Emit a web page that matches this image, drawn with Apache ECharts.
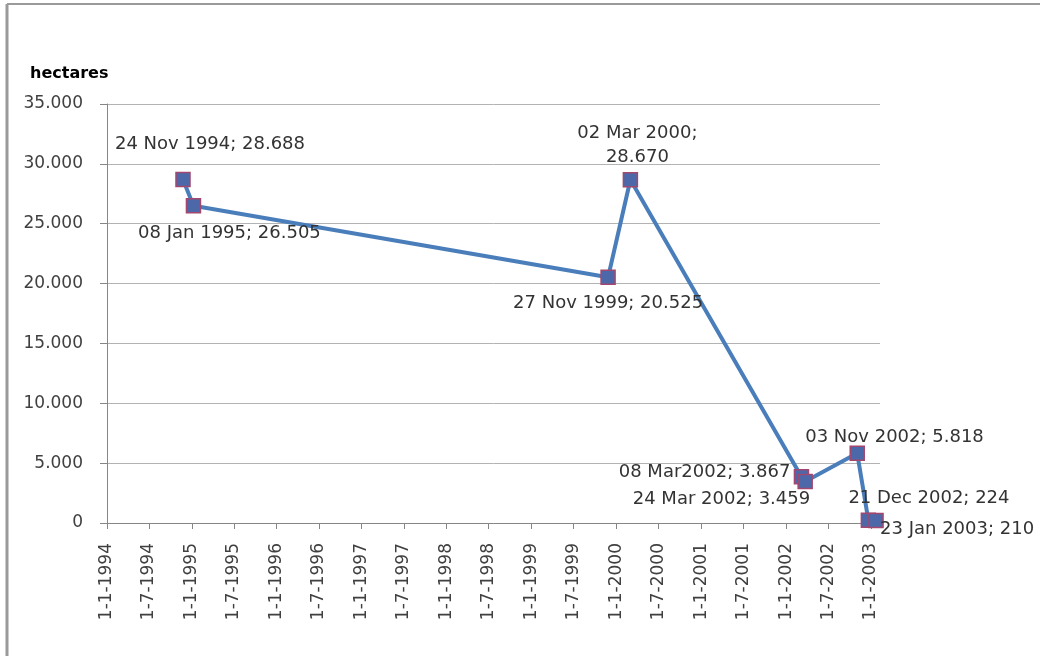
<!DOCTYPE html>
<html>
<head>
<meta charset="utf-8">
<script src="https://cdn.jsdelivr.net/npm/echarts@6/dist/echarts.min.js"></script>
<style>
  html, body { margin: 0; padding: 0; background: #fff; }
  #chart { width: 1040px; height: 656px; }
</style>
</head>
<body>
<div id="chart"></div>
<script>
  // measurement dates and areas (hectares)
  const dates = ['1994-11-24', '1995-01-08', '1999-11-27', '2000-03-02', '2002-03-08', '2002-03-24', '2002-11-03', '2002-12-21', '2003-01-23']
  const hectares = [28688, 26505, 20525, 28670, 3867, 3459, 5818, 224, 210]
  const pointLabels = ['24 Nov 1994; 28.688', '08 Jan 1995; 26.505', '27 Nov 1999; 20.525', '02 Mar 2000;\n28.670', '08 Mar2002; 3.867', '24 Mar 2002; 3.459', '03 Nov 2002; 5.818', '21 Dec 2002; 224', '23 Jan 2003; 210']
  const tickDates = ['1994-01-01', '1994-07-01', '1995-01-01', '1995-07-01', '1996-01-01', '1996-07-01', '1997-01-01', '1997-07-01', '1998-01-01', '1998-07-01', '1999-01-01', '1999-07-01', '2000-01-01', '2000-07-01', '2001-01-01', '2001-07-01', '2002-01-01', '2002-07-01', '2003-01-01']

  // where each label sits relative to its marker
  const labelPlace = [
    { align: 'center', offset: [27, -35] },
    { align: 'center', offset: [36, 28] },
    { align: 'center', offset: [0, 26] },
    { align: 'center', offset: [7, -34] },
    { align: 'right', offset: [-11, -4] },
    { align: 'right', offset: [5, 18] },
    { align: 'left', offset: [-52, -16] },
    { align: 'left', offset: [-20, -22] },
    { align: 'left', offset: [4, 9] }
  ]

  const ts = d => {
    const p = d.split('-').map(Number)
    return Date.UTC(p[0], p[1] - 1, p[2])
  }
  const dotThousands = v => String(v).replace(/\B(?=(\d{3})+(?!\d))/g, '.')
  const dmy = v => {
    const d = new Date(v)
    return d.getUTCDate() + '-' + (d.getUTCMonth() + 1) + '-' + d.getUTCFullYear()
  }

  const font = 'DejaVu Sans'
  const ticks = tickDates.map(ts)

  const chart = echarts.init(document.getElementById('chart'))
  chart.setOption({
    animation: false,
    title: {
      text: 'hectares',
      left: 25,
      top: 61,
      textStyle: { fontFamily: font, fontSize: 16, fontWeight: 'bold', color: '#000' }
    },
    grid: { left: 107, top: 104, right: 160, bottom: 133 },
    graphic: [
      { type: 'line', shape: { x1: 7, y1: 4, x2: 7, y2: 656 }, style: { stroke: '#9a9a9a', lineWidth: 3 } },
      { type: 'line', shape: { x1: 7, y1: 4, x2: 1040, y2: 4 }, style: { stroke: '#9a9a9a', lineWidth: 2 } }
    ],
    xAxis: {
      type: 'value',
      min: ts('1994-01-01'),
      max: ts('2003-02-09'),
      splitLine: { show: false },
      axisLine: { show: true, lineStyle: { color: '#868686' } },
      axisTick: { show: true, length: 6, customValues: ticks, lineStyle: { color: '#868686' } },
      axisLabel: {
        customValues: ticks,
        rotate: 90,
        margin: 20,
        formatter: dmy,
        fontFamily: font,
        fontSize: 17,
        color: '#404040'
      }
    },
    yAxis: {
      type: 'value',
      min: 0,
      max: 35000,
      interval: 5000,
      axisLine: { show: true, lineStyle: { color: '#868686' } },
      axisTick: { show: true, length: 7, lineStyle: { color: '#868686' } },
      splitLine: { lineStyle: { color: '#b3b3b3' } },
      axisLabel: {
        formatter: dotThousands,
        margin: 24,
        fontFamily: font,
        fontSize: 17,
        color: '#404040'
      }
    },
    series: [{
      type: 'line',
      data: dates.map((d, i) => ({
        value: [ts(d), hectares[i]],
        label: {
          show: true,
          position: 'inside',
          formatter: pointLabels[i],
          align: labelPlace[i].align,
          verticalAlign: 'middle',
          offset: labelPlace[i].offset
        }
      })),
      symbol: 'rect',
      symbolSize: 14,
      itemStyle: { color: '#4d68a8', borderColor: '#a3476f', borderWidth: 1.5 },
      lineStyle: { color: '#4a7ebb', width: 4 },
      label: {
        fontFamily: font,
        fontSize: 18,
        color: '#333',
        lineHeight: 24
      }
    }]
  })
</script>
</body>
</html>
